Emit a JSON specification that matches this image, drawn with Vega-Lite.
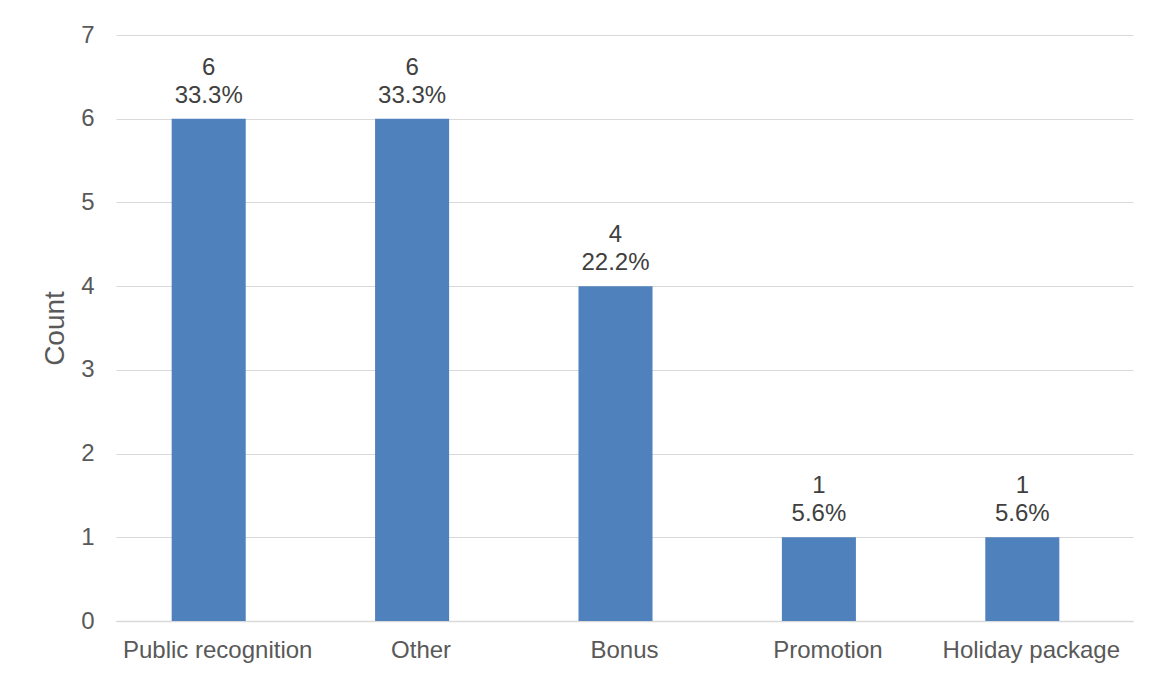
{
  "$schema": "https://vega.github.io/schema/vega-lite/v6.json",
  "width": 1017,
  "height": 586,
  "autosize": {"type": "none"},
  "padding": {"left": 116, "top": 35, "right": 34, "bottom": 54},
  "background": "white",
  "config": {
    "view": {"stroke": null},
    "font": "Liberation Sans"
  },
  "data": {
    "values": [
      {"category": "Public recognition", "count": 6, "pct": "33.3%"},
      {"category": "Other", "count": 6, "pct": "33.3%"},
      {"category": "Bonus", "count": 4, "pct": "22.2%"},
      {"category": "Promotion", "count": 1, "pct": "5.6%"},
      {"category": "Holiday package", "count": 1, "pct": "5.6%"}
    ]
  },
  "encoding": {
    "x": {
      "field": "category",
      "type": "nominal",
      "sort": null,
      "scale": {"paddingInner": 0.636, "paddingOuter": 0.318},
      "axis": {
        "title": null,
        "labelAngle": 0,
        "labelFontSize": 24,
        "labelLimit": 0,
        "labelColor": "#595959",
        "labelPadding": 17,
        "ticks": false,
        "domainColor": "#D9D9D9",
        "domainWidth": 1.5
      }
    },
    "y": {
      "field": "count",
      "type": "quantitative",
      "scale": {"domain": [0, 7]},
      "axis": {
        "title": "Count",
        "titleFontSize": 28,
        "titleFontWeight": "normal",
        "titleColor": "#595959",
        "titlePadding": 11,
        "values": [0, 1, 2, 3, 4, 5, 6, 7],
        "labelFontSize": 24,
        "labelColor": "#595959",
        "labelPadding": 22,
        "ticks": false,
        "domain": false,
        "gridColor": "#D9D9D9",
        "gridWidth": 1.2
      }
    }
  },
  "layer": [
    {"mark": {"type": "bar", "color": "#4F81BD", "xOffset": -9}},
    {
      "transform": [{"calculate": "[toString(datum.count), datum.pct]", "as": "label"}],
      "mark": {
        "type": "text",
        "baseline": "alphabetic",
        "dy": -44,
        "xOffset": -9,
        "fontSize": 24,
        "lineHeight": 28,
        "color": "#404040"
      },
      "encoding": {"text": {"field": "label"}}
    }
  ]
}
